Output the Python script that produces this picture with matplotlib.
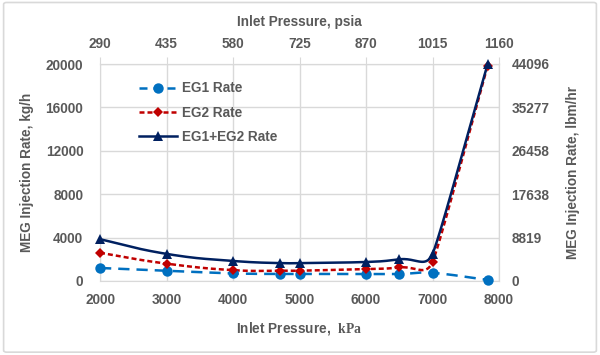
import numpy as np
import matplotlib
matplotlib.use("Agg")
import matplotlib.pyplot as plt
from matplotlib.lines import Line2D
from matplotlib.patches import FancyBboxPatch

# ---------------- data ----------------
pressure_kpa = [2000, 3000, 4000, 4700, 5000, 6000, 6500, 7000, 7830]
eg1_rate = [1200, 950, 700, 650, 650, 650, 650, 750, 100]
eg2_rate = [2600, 1600, 1000, 950, 950, 1100, 1250, 1750, 19850]
total_rate = [3850, 2500, 1850, 1650, 1650, 1750, 2000, 2500, 20000]

kpa_ticks = [2000, 3000, 4000, 5000, 6000, 7000, 8000]
psia_labels = ["290", "435", "580", "725", "870", "1015", "1160"]
kgh_ticks = [0, 4000, 8000, 12000, 16000, 20000]
lbm_labels = ["0", "8819", "17638", "26458", "35277", "44096"]
series_names = ["EG1 Rate", "EG2 Rate", "EG1+EG2 Rate"]

# ---------------- style ----------------
plt.rcParams['font.family'] = ['Liberation Sans', 'DejaVu Sans']
plt.rcParams['font.weight'] = 'bold'
plt.rcParams['mathtext.fontset'] = 'custom'
plt.rcParams['mathtext.bf'] = 'Liberation Serif:bold'
plt.rcParams['mathtext.rm'] = 'Liberation Serif'

TXT = '#595959'
GRID = '#d9d9d9'
C1, C2, C3 = '#0070C0', '#C00000', '#002060'
FS = 9.8

fig = plt.figure(figsize=(6.0, 3.55), dpi=100)
fig.patch.set_facecolor('white')
border = FancyBboxPatch((0.006, 0.008), 0.988, 0.985, boxstyle="round,pad=0,rounding_size=0.005",
                        transform=fig.transFigure, facecolor='none', edgecolor=GRID, lw=1.2)
fig.patches.append(border)

ax = fig.add_axes([100/600, 1-281/355, 399/600, 217/355])
ax.set_xlim(2000, 8000)
ax.set_ylim(0, 20000)
ax.set_xticks(kpa_ticks)
ax.set_yticks(kgh_ticks)
ax.grid(True, color=GRID, lw=1.0)
ax.set_axisbelow(True)
for s in ax.spines.values():
    s.set_color(GRID)
ax.tick_params(axis='x', length=0, colors=TXT, labelsize=FS, pad=9)
ax.tick_params(axis='y', length=0, colors=TXT, labelsize=FS, pad=12)
for lab in ax.get_xticklabels() + ax.get_yticklabels():
    lab.set_fontweight('bold')
ax.set_xlabel(r"Inlet Pressure,  $\mathbf{kPa}$", color=TXT, fontsize=FS, fontweight='bold', labelpad=9)
ax.set_ylabel("MEG Injection Rate, kg/h", color=TXT, fontsize=FS, fontweight='bold', labelpad=8)

# top axis (psia)
axt = ax.secondary_xaxis('top')
axt.set_xticks(kpa_ticks, labels=psia_labels)
axt.tick_params(axis='x', length=5, color=GRID, colors=TXT, labelsize=FS, pad=4)
axt.tick_params(axis='x', color=GRID)
axt.spines['top'].set_color(GRID)
for lab in axt.get_xticklabels():
    lab.set_fontweight('bold')
axt.set_xlabel("Inlet Pressure, psia", color=TXT, fontsize=FS, fontweight='bold', labelpad=8)

# right axis (lbm/hr)
axr = ax.secondary_yaxis('right')
axr.set_yticks(kgh_ticks, labels=lbm_labels)
axr.tick_params(axis='y', length=0, colors=TXT, labelsize=FS, pad=9)
axr.spines['right'].set_color(GRID)
for lab in axr.get_yticklabels():
    lab.set_fontweight('bold')
axr.set_ylabel("MEG Injection Rate, lbm/hr", color=TXT, fontsize=FS, fontweight='bold', labelpad=12)


def smooth(xs, ys, k=0.5, n=40):
    pts = ax.transData.transform(np.column_stack([xs, ys]))
    m = len(pts)
    dist = [np.hypot(*(pts[i + 1] - pts[i])) for i in range(m - 1)]
    tang, clen = [], []
    for i in range(m):
        if i == 0:
            t = pts[1] - pts[0]
            L = dist[0] * 0.6
        elif i == m - 1:
            t = pts[-1] - pts[-2]
            L = dist[-1] * 0.6
        else:
            t = pts[i + 1] - pts[i - 1]
            L = min(dist[i - 1], dist[i])
        nrm = np.hypot(*t)
        tang.append(t / nrm if nrm > 0 else t)
        clen.append(L)
    out = [pts[0]]
    tt = np.linspace(0, 1, n)[1:, None]
    for i in range(m - 1):
        p0, p3 = pts[i], pts[i + 1]
        d = dist[i]
        c1 = p0 + tang[i] * min(clen[i], d) * k
        c2 = p3 - tang[i + 1] * min(clen[i + 1], d) * k
        seg = ((1 - tt) ** 3) * p0 + 3 * ((1 - tt) ** 2) * tt * c1 + 3 * (1 - tt) * tt ** 2 * c2 + tt ** 3 * p3
        out.extend(seg)
    out = np.array(out)
    return ax.transData.inverted().transform(out).T


styles = [
    dict(color=C1, lw=1.8, dashes=(4.5, 2.8), marker='o', ms=7.5),
    dict(color=C2, lw=1.8, dashes=(2.0, 1.2), marker='D', ms=5.5),
    dict(color=C3, lw=1.8, dashes=None, marker='^', ms=7),
]
data = [eg1_rate, eg2_rate, total_rate]
handles = []
for ys, st, name in zip(data, styles, series_names):
    sx, sy = smooth(pressure_kpa, ys)
    kw = dict(color=st['color'], lw=st['lw'], solid_capstyle='butt', dash_capstyle='butt', zorder=3)
    if st['dashes']:
        ax.plot(sx, sy, dashes=st['dashes'], **kw)
    else:
        ax.plot(sx, sy, **kw)
    ax.plot(pressure_kpa, ys, linestyle='none', marker=st['marker'], ms=st['ms'],
            color=st['color'], mew=0, zorder=4, clip_on=False)
    h = Line2D([], [], color=st['color'], lw=st['lw'], marker=st['marker'], ms=st['ms'], mew=0,
               dash_capstyle='butt')
    if st['dashes']:
        h.set_dashes((3.2, 2.4) if st['marker'] == 'o' else st['dashes'])
    handles.append(h)

leg = ax.legend(handles, series_names, loc='upper left', bbox_to_anchor=(0.085, 0.945), frameon=False,
                fontsize=FS, handlelength=2.8, handletextpad=0.3, labelspacing=0.75, borderaxespad=0)
for t in leg.get_texts():
    t.set_color(TXT)
    t.set_fontweight('bold')

fig.savefig("out.png", dpi=100, facecolor='white')
